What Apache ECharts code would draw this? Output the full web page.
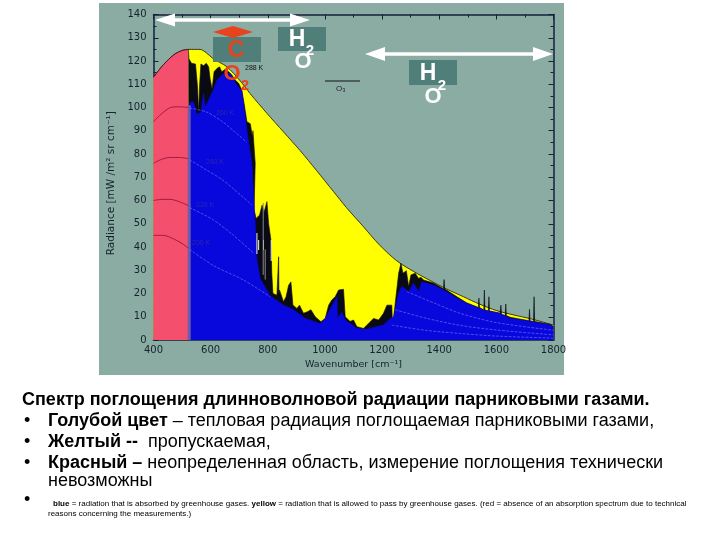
<!DOCTYPE html>
<html>
<head>
<meta charset="utf-8">
<script src="https://cdn.jsdelivr.net/npm/echarts@6/dist/echarts.min.js"></script>
<style>
 html, body { margin: 0; padding: 0; background: #fff; }
 #main { width: 720px; height: 540px; }
</style>
</head>
<body>
<div id="main"></div>
<script>
 // значения: [волновое число, яркость]
 var envelope = [[400,113],[425,117],[447,120],[475,123],[500,124.5],[522,125],[563,125],[585,123.5],[609,121],[657,117.5],[703,111.5],[738,106],[797,97.5],[855,89.5],[913,81.5],[970,73],[1029,64],[1075,57],[1135,48.7],[1190,41],[1252,34],[1310,29.5],[1368,25.6],[1425,22],[1485,18.6],[1540,15.5],[1602,12.6],[1660,10.8],[1718,9.2],[1760,7.8],[1800,6.4]];
 var redTop = [[400,113],[425,117],[447,120],[475,123],[500,124.5],[522,125]];
 var blackTop = [[522,125],[524,121],[533,119],[540,119],[547,118.7],[554,109],[558,98],[561,109],[566,118.7],[575,118],[585,119],[593,117.5],[598,112.5],[605,108],[612,115.4],[622,116.8],[631,117.5],[639,115.4],[651,116.4],[663,115.4],[674,114],[686,111.8],[698,110.4],[709,107.5],[717,101.8],[727,93.9],[739,93],[746,87.4],[748,90],[756,76],[752,56],[759,52.3],[771,53.7],[780,58],[787,55],[797,59.5],[803,50],[811,43],[814,28.7],[818,20],[832,19.3],[837,20],[838,35.8],[839,20],[841,21.5],[855,16.5],[864,18.6],[873,23.6],[881,25],[888,15],[902,13.6],[911,15],[925,11.5],[939,12.2],[951,13],[966,10],[986,7.9],[1001,9.3],[1013,15],[1024,17.2],[1036,18.6],[1048,21.5],[1065,21.8],[1071,10],[1088,8],[1100,8.6],[1112,5.7],[1135,5],[1170,9.3],[1188,8.6],[1205,11.5],[1217,15],[1234,15],[1237,5],[1246,15.8],[1258,28.7],[1266,33],[1273,28.7],[1285,29.8],[1293,23],[1301,28],[1316,28.7],[1328,26.5],[1336,27],[1345,25.8],[1380,24.5],[1415,22],[1417,26],[1419,22],[1462,18.6],[1496,16],[1537,14],[1539,18],[1541,14],[1556,12.9],[1558,21.5],[1560,12.9],[1572,12.5],[1574,18.6],[1576,12.5],[1613,11.5],[1616,15],[1618,11],[1631,10.5],[1633,15.5],[1635,10.5],[1648,9.8],[1714,8.3],[1716,13.2],[1718,8.2],[1730,8],[1732,18.6],[1734,8],[1788,6.8],[1800,5.8]];
 var blueTop = [[526,102],[540,102.5],[551,97],[566,98],[575,106],[581,100],[598,104.6],[610,107.5],[622,111.8],[645,114.6],[668,114.6],[690,110],[709,107],[717,100],[727,90],[744,76],[752,58.7],[759,43],[762,34.4],[773,26.5],[808,19],[855,15],[890,13],[931,9.3],[984,7],[1001,9.3],[1018,13],[1042,18.6],[1044,9.3],[1059,12],[1071,8.6],[1112,5],[1147,4.6],[1205,6.4],[1223,8.6],[1240,10],[1258,20],[1269,23],[1293,20.8],[1310,24.4],[1328,20.8],[1339,25],[1380,23.6],[1415,21.5],[1462,18],[1496,15.8],[1555,12.9],[1613,11.5],[1648,9.3],[1730,7.9],[1788,6.4],[1800,5.4]];
 var stripLine = [[525,0],[525,101]];
 var whiteStreaks = [[762,46],[762,37],[768,'-'],[768,43],[768,38.7],[785,'-'],[785,43],[785,38.7],[812,'-'],[812,43],[812,34]];
 var greyStreaks = [[784,59],[784,28],[791,'-'],[791,39],[791,26]];

 // изотермы: красная часть и голубая часть
 var isoRed1 = [[400,93.9],[430,97.5],[460,100],[490,100.3],[522,100]];
 var isoRed2 = [[400,76],[430,77.8],[458,78.5],[490,78.5],[522,78]];
 var isoRed3 = [[400,60],[430,60.5],[458,60.5],[490,59.5],[522,57.8]];
 var isoRed4 = [[400,45],[435,45],[470,43.5],[500,41.5],[522,39.5]];
 var isoBlue1 = [[526,99.8],[587,98],[640,94],[680,90],[727,85]];
 var isoBlue2 = [[526,77.5],[587,73],[640,69],[680,65],[745,58]];
 var isoBlue3 = [[526,57],[610,51.6],[680,45],[750,37.4]];
 var isoBlue4 = [[526,39],[610,32],[715,25.8],[808,18.6]];
 var isoBlue5 = [[1287,20.8],[1380,16],[1473,11.5],[1600,7.5],[1800,4.2]];
 var isoBlue6 = [[1246,13],[1350,9.5],[1473,6.3],[1600,4.3],[1800,2.2]];
 var isoBlue7 = [[1234,6.4],[1350,4.2],[1473,2.8],[1600,1.7],[1800,0.8]];

 var xTicks = [400, 1800, 200];
 var yTicks = [0, 140, 10];

 var bgColor = '#8aaca3';
 var boxColor = '#4f7f78';
 var orange = '#e8431c';
 var axisColor = '#14203c';
 var labelColor = '#16222e';
 var isoColor = '#6a6af0';
 var arial = '"Liberation Sans", Arial, sans-serif';

 function areaSeries(data, color, lineColor, z, smooth) {
   return {
     type: 'line',
     data: data,
     showSymbol: false,
     smooth: smooth || false,
     silent: true,
     z: z,
     lineStyle: { color: lineColor, width: lineColor == color ? 0.6 : 1 },
     areaStyle: { color: color, opacity: 1 }
   };
 }

 function lineSeries(data, color, width, z, type) {
   return {
     type: 'line',
     data: data,
     showSymbol: false,
     smooth: 0.3,
     silent: true,
     z: z,
     lineStyle: { color: color, width: width, type: type || 'solid' }
   };
 }

 function boxText(text, x, y, size, color) {
   return {
     type: 'text', z: 30, x: x, y: y,
     style: { text: text, fill: color, font: 'bold ' + size + 'px ' + arial, align: 'center', verticalAlign: 'middle' }
   };
 }

 function smallText(text, x, y, size, color) {
   return {
     type: 'text', z: 30, x: x, y: y,
     style: { text: text, fill: color, font: size + 'px ' + arial, verticalAlign: 'middle' }
   };
 }

 // двусторонняя стрелка
 function arrow(x1, x2, y, head, halfH, thick, color) {
   return {
     type: 'polygon', z: 25,
     shape: { points: [
       [x1, y], [x1 + head, y - halfH], [x1 + head, y - thick / 2], [x2 - head, y - thick / 2],
       [x2 - head, y - halfH], [x2, y], [x2 - head, y + halfH], [x2 - head, y + thick / 2],
       [x1 + head, y + thick / 2], [x1 + head, y + halfH]
     ] },
     style: { fill: color }
   };
 }

 function textLine(text, x, y, size) {
   return {
     type: 'text', z: 30, x: x, y: y,
     style: {
       text: text, fill: '#000', font: size + 'px ' + arial, verticalAlign: 'middle',
       rich: { b: { font: 'bold ' + size + 'px ' + arial, fill: '#000' } }
     }
   };
 }

 function plainNumber(v) {
   return '' + v;
 }

 var axisBase = {
   type: 'value',
   axisLine: { onZero: false, lineStyle: { color: axisColor, width: 1.5 } },
   axisTick: { inside: true, length: 5, lineStyle: { color: axisColor } },
   minorTick: { show: true, splitNumber: 2, length: 3, lineStyle: { color: axisColor } },
   splitLine: { show: false },
   axisLabel: { color: labelColor, fontFamily: 'DejaVu Sans', fontSize: 10, formatter: plainNumber },
   nameTextStyle: { color: labelColor, fontFamily: 'DejaVu Sans', fontSize: 9.5 }
 };

 var myChart = echarts.init(document.getElementById('main'));

 var option = {
   animation: false,
   backgroundColor: '#fff',
   grid: { left: 153.5, right: 166.5, top: 14.5, bottom: 200 },
   xAxis: [
     Object.assign({}, axisBase, {
       min: xTicks[0], max: xTicks[1], interval: xTicks[2],
       position: 'bottom',
       name: 'Wavenumber [cm⁻¹]', nameLocation: 'middle', nameGap: 20,
       axisLabel: Object.assign({}, axisBase.axisLabel, { margin: 5 })
     }),
     Object.assign({}, axisBase, {
       min: xTicks[0], max: xTicks[1], interval: xTicks[2],
       position: 'top',
       axisLabel: { show: false }
     })
   ],
   yAxis: [
     Object.assign({}, axisBase, {
       min: yTicks[0], max: yTicks[1], interval: yTicks[2],
       position: 'left',
       name: 'Radiance [mW /m² sr cm⁻¹]', nameLocation: 'middle', nameGap: 27,
       nameTextStyle: Object.assign({}, axisBase.nameTextStyle, { fontSize: 10.5, padding: [0, 12, 0, 0] }),
       axisLabel: Object.assign({}, axisBase.axisLabel, { margin: 7 })
     }),
     Object.assign({}, axisBase, {
       min: yTicks[0], max: yTicks[1], interval: yTicks[2],
       position: 'right',
       axisLabel: { show: false }
     })
   ],
   series: [
     areaSeries(envelope, '#ffff00', '#3d3a10', 2, 0.3),
     areaSeries(redTop, '#f4506e', '#3d1a20', 3, 0.3),
     areaSeries(blackTop, '#0a0a14', '#0a0a14', 4),
     areaSeries(blueTop, '#0808dc', '#0808dc', 5),
     lineSeries(stripLine, '#6f5ca8', 3, 6),
     {
       type: 'line', data: whiteStreaks, showSymbol: false, silent: true, z: 7,
       lineStyle: { color: '#f4f4f4', width: 1 }
     },
     {
       type: 'line', data: greyStreaks, showSymbol: false, silent: true, z: 7,
       lineStyle: { color: '#8a8a90', width: 1 }
     },
     lineSeries(isoRed1, '#a01c3c', 1, 8),
     lineSeries(isoRed2, '#a01c3c', 1, 8),
     lineSeries(isoRed3, '#a01c3c', 1, 8),
     lineSeries(isoRed4, '#a01c3c', 1, 8),
     lineSeries(isoBlue1, isoColor, 0.7, 8, 'dashed'),
     lineSeries(isoBlue2, isoColor, 0.7, 8, 'dashed'),
     lineSeries(isoBlue3, isoColor, 0.7, 8, 'dashed'),
     lineSeries(isoBlue4, isoColor, 0.7, 8, 'dashed'),
     lineSeries(isoBlue5, isoColor, 0.7, 8, 'dashed'),
     lineSeries(isoBlue6, isoColor, 0.7, 8, 'dashed'),
     lineSeries(isoBlue7, isoColor, 0.7, 8, 'dashed')
   ],
   graphic: [
     // фон картинки
     { type: 'rect', z: -10, shape: { x: 99, y: 3, width: 465, height: 372 }, style: { fill: bgColor } },

     { type: 'rect', z: 20, shape: { x: 213, y: 37, width: 48, height: 25 }, style: { fill: boxColor } },
     { type: 'rect', z: 20, shape: { x: 278, y: 27, width: 48, height: 24 }, style: { fill: boxColor } },
     { type: 'rect', z: 20, shape: { x: 409, y: 60, width: 48, height: 25 }, style: { fill: boxColor } },

     arrow(155, 310, 20, 20, 6.5, 3.5, '#fff'),
     arrow(213, 253, 32, 20, 6, 2, orange),
     arrow(365, 553, 54, 20, 7, 3.5, '#fff'),

     boxText('C', 236, 51, 23, orange),
     boxText('O', 232, 74, 22, orange),
     boxText('2', 245, 86, 15, orange),
     boxText('H', 297, 40, 23, '#fff'),
     boxText('2', 310, 51, 15, '#fff'),
     boxText('O', 303, 62, 22, '#fff'),
     boxText('H', 428, 74, 23, '#fff'),
     boxText('2', 442, 86, 15, '#fff'),
     boxText('O', 433, 97, 22, '#fff'),

     { type: 'line', z: 22, shape: { x1: 325, y1: 81, x2: 360, y2: 81 }, style: { stroke: '#111', lineWidth: 1 } },
     smallText('O₃', 336, 89, 8, '#223'),
     smallText('288 K', 245, 68, 7, '#111'),
     smallText('260 K', 216, 113, 7, '#2a2aa8'),
     smallText('240 K', 206, 162, 7, '#2a2aa8'),
     smallText('220 K', 196, 205, 7, '#2a2aa8'),
     smallText('200 K', 192, 243, 7, '#2a2aa8'),

     textLine('{b|Спектр поглощения длинноволновой радиации парниковыми газами.}', 22, 400, 18),
     textLine('•', 24, 421, 18),
     textLine('{b|Голубой цвет} – тепловая радиация поглощаемая парниковыми газами,', 48, 421, 18),
     textLine('•', 24, 442, 18),
     textLine('{b|Желтый --}  пропускаемая,', 48, 442, 18),
     textLine('•', 24, 463, 18),
     textLine('{b|Красный –} неопределенная область, измерение поглощения технически', 48, 463, 18),
     textLine('невозможны', 48, 481, 18),
     textLine('•', 24, 500, 18),
     textLine('{b|blue} = radiation that is absorbed by greenhouse gases. {b|yellow} = radiation that is allowed to pass by greenhouse gases. (red = absence of an absorption spectrum due to technical', 53, 504, 8),
     textLine('reasons concerning the measurements.)', 48, 514, 8)
   ]
 };

 myChart.setOption(option);
</script>
</body>
</html>
